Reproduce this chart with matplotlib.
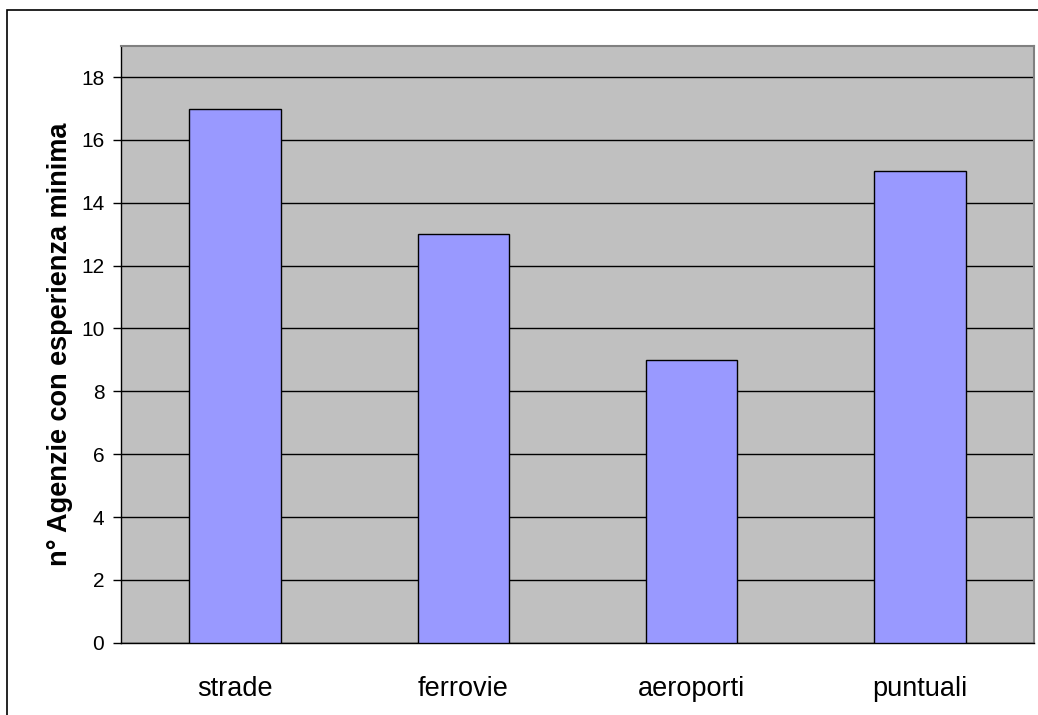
import matplotlib
matplotlib.use("Agg")
import matplotlib.pyplot as plt
from matplotlib.patches import Rectangle

categories = ["strade", "ferrovie", "aeroporti", "puntuali"]
values = [17, 13, 9, 15]
yticks = [0, 2, 4, 6, 8, 10, 12, 14, 16, 18]
ylabel = "n° Agenzie con esperienza minima"

plt.rcParams['font.family'] = ['Liberation Sans', 'DejaVu Sans']

W, H = 1038, 715
fig = plt.figure(figsize=(W / 100, H / 100), dpi=100)
fig.patch.set_facecolor("white")

# outer chart border (extends beyond right/bottom edges)
fig.add_artist(Rectangle((7 / W, -0.05), 1.1, 1 - 10 / H + 0.05,
                         transform=fig.transFigure, fill=False,
                         edgecolor="black", linewidth=1.2))

ax = fig.add_axes([121 / W, 1 - 642.7 / H, (1034 - 121) / W, (642.7 - 45.7) / H])
ax.set_facecolor("#C0C0C0")
x = list(range(len(categories)))
ax.bar(x, values, width=0.4, color="#9999FF", edgecolor="black", linewidth=1.0, zorder=3)
ax.set_xlim(-0.5, len(categories) - 0.5)
ax.set_ylim(0, 19)
ax.set_yticks(yticks)
ax.set_yticklabels([str(v) for v in yticks], fontsize=15)
ax.set_xticks(x)
ax.set_xticklabels(categories, fontsize=19.5)
ax.tick_params(axis="x", length=0, pad=24)
ax.tick_params(axis="y", length=6, width=1, color="black", pad=6)
ax.yaxis.grid(True, color="black", linewidth=1.0, zorder=1)
ax.set_axisbelow(True)
for side in ["top", "right"]:
    ax.spines[side].set_color("#808080")
    ax.spines[side].set_linewidth(1.5)
for side in ["left", "bottom"]:
    ax.spines[side].set_color("black")
    ax.spines[side].set_linewidth(1.0)
ax.set_ylabel(ylabel, fontsize=19.5, fontweight="bold", labelpad=6)

fig.savefig("out.png", dpi=100)
